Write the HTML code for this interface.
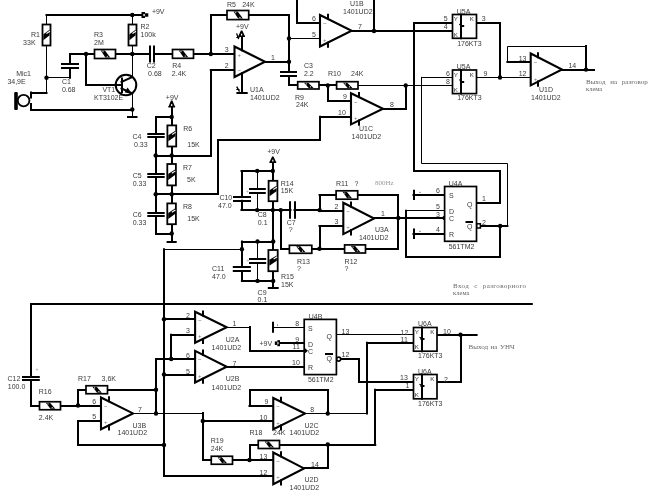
<!DOCTYPE html>
<html><head><meta charset="utf-8"><style>
html,body{margin:0;padding:0;background:#fff;}
svg{display:block;will-change:transform;}
</style></head><body>
<svg width="648" height="502" viewBox="0 0 648 502">
<rect width="648" height="502" fill="#fff"/>
<path d="M46.5 15 L142 15" stroke="#000" stroke-width="2" fill="none" stroke-linecap="square"/>
<path d="M46.5 15 L46.5 93" stroke="#000" stroke-width="1" fill="none" stroke-linecap="square"/>
<path d="M46.5 93 L31 93" stroke="#000" stroke-width="2" fill="none" stroke-linecap="square"/>
<path d="M31 92.5 L31 97.5" stroke="#000" stroke-width="2" fill="none" stroke-linecap="square"/>
<path d="M31 104 L31 110 L132.3 110" stroke="#000" stroke-width="2" fill="none" stroke-linecap="square"/>
<rect x="14.2" y="92" width="3.6" height="18" rx="1.2" fill="#000"/>
<circle cx="23.6" cy="100.6" r="5.8" fill="#fff" stroke="#000" stroke-width="1.8"/>
<path d="M46.5 77.5 L70 77.5" stroke="#000" stroke-width="1" fill="none" stroke-linecap="square"/>
<path d="M70 77.7 L70 68.2" stroke="#000" stroke-width="2" fill="none" stroke-linecap="square"/>
<path d="M62 64 L78 64" stroke="#000" stroke-width="2" fill="none" stroke-linecap="square"/>
<path d="M62 68 L78 68" stroke="#000" stroke-width="2" fill="none" stroke-linecap="square"/>
<path d="M70 63.7 L70 54 L94.5 54" stroke="#000" stroke-width="2" fill="none" stroke-linecap="square"/>
<path d="M86 54 L86 85 L121.5 85" stroke="#000" stroke-width="2" fill="none" stroke-linecap="square"/>
<path d="M115.5 54 L150 54" stroke="#000" stroke-width="2" fill="none" stroke-linecap="square"/>
<path d="M154 54 L172.5 54" stroke="#000" stroke-width="2" fill="none" stroke-linecap="square"/>
<path d="M150 46.5 L150 61.5" stroke="#000" stroke-width="2" fill="none" stroke-linecap="square"/>
<path d="M154 46.5 L154 61.5" stroke="#000" stroke-width="2" fill="none" stroke-linecap="square"/>
<path d="M132.5 15 L132.5 77" stroke="#000" stroke-width="1" fill="none" stroke-linecap="square"/>
<circle cx="126" cy="85" r="10.3" fill="none" stroke="#000" stroke-width="2"/>
<path d="M122 78.5 L122 92" stroke="#000" stroke-width="2" fill="none" stroke-linecap="square"/>
<path d="M121.5 82 L132.3 77" stroke="#000" stroke-width="2" fill="none" stroke-linecap="square"/>
<path d="M121.5 88.5 L132.3 93.5" stroke="#000" stroke-width="2" fill="none" stroke-linecap="square"/>
<path d="M132.3 94.2 L124.6 92.2 L127.6 87.4 Z" fill="#000"/>
<path d="M132.5 93 L132.5 116.7" stroke="#000" stroke-width="1" fill="none" stroke-linecap="square"/>
<path d="M128 117 L136.5 117" stroke="#000" stroke-width="2" fill="none" stroke-linecap="square"/>
<rect x="42.5" y="24.5" width="8" height="21" fill="#fff" stroke="#000" stroke-width="1.8"/>
<path d="M43.4 34.2 L49.6 29.8 L49.6 35.2 L43.4 40.2 Z" fill="#000"/>
<path d="M46.9 33.2 L49.5 31.5" stroke="#fff" stroke-width="1.1" fill="none" stroke-linecap="square"/>
<rect x="128.5" y="24.5" width="8" height="21" fill="#fff" stroke="#000" stroke-width="1.8"/>
<path d="M129.4 34.2 L135.6 29.8 L135.6 35.2 L129.4 40.2 Z" fill="#000"/>
<path d="M132.9 33.2 L135.5 31.5" stroke="#fff" stroke-width="1.1" fill="none" stroke-linecap="square"/>
<rect x="94.5" y="49.5" width="21" height="9" fill="#fff" stroke="#000" stroke-width="1.7"/>
<path d="M100.8 50.5 L105 50.5 L110.2 57.5 L105.4 57.5 Z" fill="#000"/>
<circle cx="103" cy="51.7" r="0.6" fill="#fff"/>
<circle cx="107.2" cy="56.3" r="0.6" fill="#fff"/>
<rect x="141.5" y="12" width="3.54" height="6" fill="#000"/>
<rect x="145.04" y="13.25" width="3.26" height="3.5" fill="#000"/>
<rect x="143.4" y="13.9" width="1.36" height="2.2" fill="#fff"/>
<circle cx="132.3" cy="15" r="2.2"/>
<circle cx="132.3" cy="54" r="2.2"/>
<circle cx="86" cy="54" r="2.2"/>
<circle cx="46.5" cy="77.7" r="2.2"/>
<circle cx="132.3" cy="109.5" r="2.2"/>
<text x="151.9" y="13.9" font-size="7" fill="#3a3a3a" font-family="Liberation Sans">+9V</text>
<text x="31" y="37" font-size="7" fill="#3a3a3a" font-family="Liberation Sans">R1</text>
<text x="23.1" y="45" font-size="7" fill="#3a3a3a" font-family="Liberation Sans">33K</text>
<text x="140.5" y="29" font-size="7" fill="#3a3a3a" font-family="Liberation Sans">R2</text>
<text x="140.5" y="36.6" font-size="7" fill="#3a3a3a" font-family="Liberation Sans">100k</text>
<text x="94" y="37" font-size="7" fill="#3a3a3a" font-family="Liberation Sans">R3</text>
<text x="94" y="45" font-size="7" fill="#3a3a3a" font-family="Liberation Sans">2M</text>
<text x="16.2" y="76" font-size="7" fill="#3a3a3a" font-family="Liberation Sans">Mic1</text>
<text x="7.4" y="84.2" font-size="7" fill="#3a3a3a" font-family="Liberation Sans">34,9E</text>
<text x="61.9" y="84" font-size="7" fill="#3a3a3a" font-family="Liberation Sans">C1</text>
<text x="61.9" y="91.8" font-size="7" fill="#3a3a3a" font-family="Liberation Sans">0.68</text>
<text x="102.4" y="92.2" font-size="7" fill="#3a3a3a" font-family="Liberation Sans">VT1</text>
<text x="94" y="99.8" font-size="7" fill="#3a3a3a" font-family="Liberation Sans">KT3102E</text>
<text x="146.7" y="68" font-size="7" fill="#3a3a3a" font-family="Liberation Sans">C2</text>
<text x="148.1" y="76" font-size="7" fill="#3a3a3a" font-family="Liberation Sans">0.68</text>
<text x="172.2" y="68" font-size="7" fill="#3a3a3a" font-family="Liberation Sans">R4</text>
<text x="171.8" y="76" font-size="7" fill="#3a3a3a" font-family="Liberation Sans">2.4K</text>
<path d="M193.5 54 L234.5 54" stroke="#000" stroke-width="2" fill="none" stroke-linecap="square"/>
<path d="M211 54 L211 15 L227 15" stroke="#000" stroke-width="2" fill="none" stroke-linecap="square"/>
<path d="M248.7 15 L289 15 L289 71.6" stroke="#000" stroke-width="2" fill="none" stroke-linecap="square"/>
<path d="M210.8 70 L234.5 70" stroke="#000" stroke-width="2" fill="none" stroke-linecap="square"/>
<path d="M211 70.4 L211 156 L171.7 156" stroke="#000" stroke-width="2" fill="none" stroke-linecap="square"/>
<path d="M265 62 L289 62" stroke="#000" stroke-width="2" fill="none" stroke-linecap="square"/>
<path d="M289 38.5 L320 38.5" stroke="#000" stroke-width="1" fill="none" stroke-linecap="square"/>
<path d="M281 72 L296 72" stroke="#000" stroke-width="2" fill="none" stroke-linecap="square"/>
<path d="M281 76 L296 76" stroke="#000" stroke-width="2" fill="none" stroke-linecap="square"/>
<path d="M289 76.1 L289 85 L297.7 85" stroke="#000" stroke-width="2" fill="none" stroke-linecap="square"/>
<path d="M319 85 L336.6 85" stroke="#000" stroke-width="2" fill="none" stroke-linecap="square"/>
<path d="M358 85.5 L452.5 85.5" stroke="#000" stroke-width="1" fill="none" stroke-linecap="square"/>
<path d="M328 85.4 L328 101 L351 101" stroke="#000" stroke-width="2" fill="none" stroke-linecap="square"/>
<path d="M242 46.5 L242 37" stroke="#000" stroke-width="2" fill="none" stroke-linecap="square"/>
<path d="M242 77 L242 92.8" stroke="#000" stroke-width="2" fill="none" stroke-linecap="square"/>
<path d="M237.4 93 L246.7 93" stroke="#000" stroke-width="2" fill="none" stroke-linecap="square"/>
<path d="M297 0 L297 23 L320 23" stroke="#000" stroke-width="2" fill="none" stroke-linecap="square"/>
<path d="M351.6 31 L452.5 31" stroke="#000" stroke-width="2" fill="none" stroke-linecap="square"/>
<path d="M374 0 L374 31" stroke="#000" stroke-width="2" fill="none" stroke-linecap="square"/>
<path d="M414 23 L452.5 23" stroke="#000" stroke-width="2" fill="none" stroke-linecap="square"/>
<path d="M414 23 L414 171 L500 171 L500 203 L476.5 203" stroke="#000" stroke-width="2" fill="none" stroke-linecap="square"/>
<path d="M476.5 23 L500 23 L500 77.5" stroke="#000" stroke-width="2" fill="none" stroke-linecap="square"/>
<path d="M421.5 77.5 L452.5 77.5" stroke="#000" stroke-width="1" fill="none" stroke-linecap="square"/>
<path d="M421.5 77.4 L421.5 163.5 L507.5 163.5 L507.5 226" stroke="#000" stroke-width="1" fill="none" stroke-linecap="square"/>
<path d="M507.4 226 L480.6 226" stroke="#000" stroke-width="2" fill="none" stroke-linecap="square"/>
<path d="M406 85.4 L406 109 L383 109" stroke="#000" stroke-width="2" fill="none" stroke-linecap="square"/>
<path d="M476.5 77.5 L530.7 77.5" stroke="#000" stroke-width="1" fill="none" stroke-linecap="square"/>
<path d="M507.4 62 L530.7 62" stroke="#000" stroke-width="2" fill="none" stroke-linecap="square"/>
<path d="M507.5 61.5 L507.5 46.5 L586 46.5" stroke="#000" stroke-width="1" fill="none" stroke-linecap="square"/>
<path d="M586 46 L586 69.6" stroke="#000" stroke-width="2" fill="none" stroke-linecap="square"/>
<path d="M562 70 L594 70" stroke="#000" stroke-width="2" fill="none" stroke-linecap="square"/>
<path d="M320 117 L351 117" stroke="#000" stroke-width="2" fill="none" stroke-linecap="square"/>
<path d="M320 116.7 L320 140 L218 140 L218 194 L171.7 194" stroke="#000" stroke-width="2" fill="none" stroke-linecap="square"/>
<path d="M234.5 46.5 L265 61.75 L234.5 77 Z" fill="#fff" stroke="#000" stroke-width="2.1" stroke-linejoin="miter"/>
<text x="237.5" y="56.56" font-size="6" fill="#777" font-family="Liberation Sans">+</text>
<text x="237.5" y="72.42" font-size="6" fill="#777" font-family="Liberation Sans">~</text>
<path d="M242 50.3 L242 46.2" stroke="#000" stroke-width="2" fill="none" stroke-linecap="square"/>
<path d="M242 73.2 L242 77.3" stroke="#000" stroke-width="2" fill="none" stroke-linecap="square"/>
<path d="M320 15 L351.6 30.75 L320 46.5 Z" fill="#fff" stroke="#000" stroke-width="2.1" stroke-linejoin="miter"/>
<text x="323" y="25.4" font-size="6" fill="#777" font-family="Liberation Sans">~</text>
<text x="323" y="41.77" font-size="6" fill="#777" font-family="Liberation Sans">+</text>
<path d="M328 18.8 L328 14.7" stroke="#000" stroke-width="2" fill="none" stroke-linecap="square"/>
<path d="M328 42.7 L328 46.8" stroke="#000" stroke-width="2" fill="none" stroke-linecap="square"/>
<path d="M351 93.2 L383 108.8 L351 124.4 Z" fill="#fff" stroke="#000" stroke-width="2.1" stroke-linejoin="miter"/>
<text x="354" y="103.5" font-size="6" fill="#777" font-family="Liberation Sans">~</text>
<text x="354" y="119.72" font-size="6" fill="#777" font-family="Liberation Sans">+</text>
<path d="M359 97 L359 92.9" stroke="#000" stroke-width="2" fill="none" stroke-linecap="square"/>
<path d="M359 120.6 L359 124.7" stroke="#000" stroke-width="2" fill="none" stroke-linecap="square"/>
<path d="M530.7 53.5 L562 69.45 L530.7 85.4 Z" fill="#fff" stroke="#000" stroke-width="2.1" stroke-linejoin="miter"/>
<text x="533.7" y="64.03" font-size="6" fill="#777" font-family="Liberation Sans">~</text>
<text x="533.7" y="80.62" font-size="6" fill="#777" font-family="Liberation Sans">+</text>
<path d="M538 57.3 L538 53.2" stroke="#000" stroke-width="2" fill="none" stroke-linecap="square"/>
<path d="M538 81.6 L538 85.7" stroke="#000" stroke-width="2" fill="none" stroke-linecap="square"/>
<rect x="172.5" y="49.5" width="21" height="8.8" fill="#fff" stroke="#000" stroke-width="1.7"/>
<path d="M178.8 50.5 L183 50.5 L188.2 57.3 L183.4 57.3 Z" fill="#000"/>
<circle cx="181" cy="51.7" r="0.6" fill="#fff"/>
<circle cx="185.2" cy="56.1" r="0.6" fill="#fff"/>
<rect x="227" y="10.5" width="21.7" height="9.1" fill="#fff" stroke="#000" stroke-width="1.7"/>
<path d="M233.51 11.5 L237.71 11.5 L242.91 18.6 L238.11 18.6 Z" fill="#000"/>
<circle cx="235.71" cy="12.7" r="0.6" fill="#fff"/>
<circle cx="239.91" cy="17.4" r="0.6" fill="#fff"/>
<rect x="297.7" y="81.7" width="21.3" height="7.3" fill="#fff" stroke="#000" stroke-width="1.7"/>
<path d="M304.09 82.7 L308.29 82.7 L313.49 88 L308.69 88 Z" fill="#000"/>
<circle cx="306.29" cy="83.9" r="0.6" fill="#fff"/>
<circle cx="310.49" cy="86.8" r="0.6" fill="#fff"/>
<rect x="336.6" y="81.7" width="21.4" height="7.3" fill="#fff" stroke="#000" stroke-width="1.7"/>
<path d="M343.02 82.7 L347.22 82.7 L352.42 88 L347.62 88 Z" fill="#000"/>
<circle cx="345.22" cy="83.9" r="0.6" fill="#fff"/>
<circle cx="349.42" cy="86.8" r="0.6" fill="#fff"/>
<path d="M240.9 30.5 L242.3 30.5 L244.6 35.4 L245 35.4 L245 37 L238.2 37 L238.2 35.4 L238.6 35.4 Z" fill="#000"/>
<rect x="241" y="33.75" width="1.2" height="1.76" fill="#fff"/>
<rect x="452.5" y="14.5" width="24" height="23.8" fill="#fff" stroke="#000" stroke-width="1.7"/>
<path d="M461 14.5 L461 38.3" stroke="#000" stroke-width="2" fill="none" stroke-linecap="square"/>
<text x="453.8" y="21.1" font-size="6.2" fill="#333" font-family="Liberation Sans">Y</text>
<text x="453.8" y="36.5" font-size="6.2" fill="#333" font-family="Liberation Sans">K</text>
<text x="469.7" y="21.1" font-size="6.2" fill="#333" font-family="Liberation Sans">K</text>
<path d="M459.7 24.5 L461.7 26" stroke="#000" stroke-width="1.2" fill="none" stroke-linecap="square"/>
<path d="M461.2 26 L463.2 26" stroke="#000" stroke-width="2" fill="none" stroke-linecap="square"/>
<rect x="452.5" y="70" width="24" height="23.6" fill="#fff" stroke="#000" stroke-width="1.7"/>
<path d="M461 70 L461 93.6" stroke="#000" stroke-width="2" fill="none" stroke-linecap="square"/>
<text x="453.8" y="76.6" font-size="6.2" fill="#333" font-family="Liberation Sans">Y</text>
<text x="453.8" y="91.8" font-size="6.2" fill="#333" font-family="Liberation Sans">K</text>
<text x="469.7" y="76.6" font-size="6.2" fill="#333" font-family="Liberation Sans">K</text>
<path d="M459.7 80 L461.7 81.5" stroke="#000" stroke-width="1.2" fill="none" stroke-linecap="square"/>
<path d="M461.2 82 L463.2 82" stroke="#000" stroke-width="2" fill="none" stroke-linecap="square"/>
<circle cx="210.8" cy="54" r="2.2"/>
<circle cx="289" cy="61.8" r="2.2"/>
<circle cx="289" cy="38.4" r="2.2"/>
<circle cx="327.8" cy="85.4" r="2.2"/>
<circle cx="405.7" cy="85.4" r="2.2"/>
<circle cx="374" cy="31" r="2.2"/>
<circle cx="500" cy="77.5" r="2.2"/>
<circle cx="586" cy="69.6" r="2.2"/>
<text x="227" y="6.5" font-size="7" fill="#3a3a3a" font-family="Liberation Sans">R5</text>
<text x="242.2" y="6.5" font-size="7" fill="#3a3a3a" font-family="Liberation Sans">24K</text>
<text x="236" y="29" font-size="7" fill="#3a3a3a" font-family="Liberation Sans">+9V</text>
<text x="224.8" y="52.3" font-size="7" fill="#3a3a3a" font-family="Liberation Sans">3</text>
<text x="224.8" y="67.7" font-size="7" fill="#3a3a3a" font-family="Liberation Sans">2</text>
<text x="271" y="60" font-size="7" fill="#3a3a3a" font-family="Liberation Sans">1</text>
<text x="250" y="92" font-size="7" fill="#3a3a3a" font-family="Liberation Sans">U1A</text>
<text x="250" y="99.8" font-size="7" fill="#3a3a3a" font-family="Liberation Sans">1401UD2</text>
<text x="304" y="68.3" font-size="7" fill="#3a3a3a" font-family="Liberation Sans">C3</text>
<text x="304" y="76" font-size="7" fill="#3a3a3a" font-family="Liberation Sans">2.2</text>
<text x="295" y="100" font-size="7" fill="#3a3a3a" font-family="Liberation Sans">R9</text>
<text x="296" y="106.5" font-size="7" fill="#3a3a3a" font-family="Liberation Sans">24K</text>
<text x="350" y="6.3" font-size="7" fill="#3a3a3a" font-family="Liberation Sans">U1B</text>
<text x="343" y="13.8" font-size="7" fill="#3a3a3a" font-family="Liberation Sans">1401UD2</text>
<text x="312" y="21.3" font-size="7" fill="#3a3a3a" font-family="Liberation Sans">6</text>
<text x="312" y="36.5" font-size="7" fill="#3a3a3a" font-family="Liberation Sans">5</text>
<text x="358" y="28.5" font-size="7" fill="#3a3a3a" font-family="Liberation Sans">7</text>
<text x="456.8" y="13.8" font-size="7" fill="#3a3a3a" font-family="Liberation Sans">U5A</text>
<text x="443.8" y="20.5" font-size="7" fill="#3a3a3a" font-family="Liberation Sans">5</text>
<text x="443.8" y="29" font-size="7" fill="#3a3a3a" font-family="Liberation Sans">4</text>
<text x="481.8" y="20.5" font-size="7" fill="#3a3a3a" font-family="Liberation Sans">3</text>
<text x="457.2" y="45.8" font-size="7" fill="#3a3a3a" font-family="Liberation Sans">176KT3</text>
<text x="456.8" y="69.2" font-size="7" fill="#3a3a3a" font-family="Liberation Sans">U5A</text>
<text x="446" y="76" font-size="7" fill="#3a3a3a" font-family="Liberation Sans">6</text>
<text x="446" y="84" font-size="7" fill="#3a3a3a" font-family="Liberation Sans">8</text>
<text x="483.5" y="76" font-size="7" fill="#3a3a3a" font-family="Liberation Sans">9</text>
<text x="457.2" y="100" font-size="7" fill="#3a3a3a" font-family="Liberation Sans">176KT3</text>
<text x="328" y="76" font-size="7" fill="#3a3a3a" font-family="Liberation Sans">R10</text>
<text x="351" y="76" font-size="7" fill="#3a3a3a" font-family="Liberation Sans">24K</text>
<text x="343" y="99" font-size="7" fill="#3a3a3a" font-family="Liberation Sans">9</text>
<text x="338" y="114.7" font-size="7" fill="#3a3a3a" font-family="Liberation Sans">10</text>
<text x="390" y="106.5" font-size="7" fill="#3a3a3a" font-family="Liberation Sans">8</text>
<text x="359" y="131" font-size="7" fill="#3a3a3a" font-family="Liberation Sans">U1C</text>
<text x="351.6" y="139" font-size="7" fill="#3a3a3a" font-family="Liberation Sans">1401UD2</text>
<text x="518.7" y="60.5" font-size="7" fill="#3a3a3a" font-family="Liberation Sans">13</text>
<text x="518.7" y="76" font-size="7" fill="#3a3a3a" font-family="Liberation Sans">12</text>
<text x="568.4" y="68" font-size="7" fill="#3a3a3a" font-family="Liberation Sans">14</text>
<text x="539" y="91.5" font-size="7" fill="#3a3a3a" font-family="Liberation Sans">U1D</text>
<text x="531" y="100" font-size="7" fill="#3a3a3a" font-family="Liberation Sans">1401UD2</text>
<text x="586" y="84.3" font-size="7" fill="#666" font-family="Liberation Serif" word-spacing="3">Выход на разговорного</text>
<text x="586" y="91.3" font-size="6.5" fill="#666" font-family="Liberation Serif">клема</text>
<path d="M172 107.5 L172 241.5" stroke="#000" stroke-width="2" fill="none" stroke-linecap="square"/>
<path d="M167.6 242 L175.7 242" stroke="#000" stroke-width="2" fill="none" stroke-linecap="square"/>
<path d="M171.7 117 L156 117 L156 134" stroke="#000" stroke-width="2" fill="none" stroke-linecap="square"/>
<path d="M171.7 234 L156 234 L156 216.4" stroke="#000" stroke-width="2" fill="none" stroke-linecap="square"/>
<path d="M155.7 156 L171.7 156" stroke="#000" stroke-width="2" fill="none" stroke-linecap="square"/>
<path d="M155.7 194 L171.7 194" stroke="#000" stroke-width="2" fill="none" stroke-linecap="square"/>
<path d="M156 137.1 L156 173.6" stroke="#000" stroke-width="2" fill="none" stroke-linecap="square"/>
<path d="M156 177.4 L156 212.6" stroke="#000" stroke-width="2" fill="none" stroke-linecap="square"/>
<path d="M148.3 134 L163.7 134" stroke="#000" stroke-width="2" fill="none" stroke-linecap="square"/>
<path d="M148.3 137 L163.7 137" stroke="#000" stroke-width="2" fill="none" stroke-linecap="square"/>
<path d="M148.3 177 L163.7 177" stroke="#000" stroke-width="2" fill="none" stroke-linecap="square"/>
<path d="M148.3 213 L163.7 213" stroke="#000" stroke-width="2" fill="none" stroke-linecap="square"/>
<path d="M148.3 216 L163.7 216" stroke="#000" stroke-width="2" fill="none" stroke-linecap="square"/>
<path d="M148.3 174 L163.7 174" stroke="#000" stroke-width="2" fill="none" stroke-linecap="square"/>
<rect x="167.4" y="125.4" width="8.8" height="21.1" fill="#fff" stroke="#000" stroke-width="1.8"/>
<path d="M168.3 135.15 L175.3 130.75 L175.3 136.15 L168.3 141.15 Z" fill="#000"/>
<path d="M172.6 134.15 L175.2 132.45" stroke="#fff" stroke-width="1.1" fill="none" stroke-linecap="square"/>
<rect x="167.3" y="164" width="8.6" height="21.4" fill="#fff" stroke="#000" stroke-width="1.8"/>
<path d="M168.2 173.9 L175 169.5 L175 174.9 L168.2 179.9 Z" fill="#000"/>
<path d="M172.3 172.9 L174.9 171.2" stroke="#fff" stroke-width="1.1" fill="none" stroke-linecap="square"/>
<rect x="167.3" y="203.4" width="8.6" height="20.8" fill="#fff" stroke="#000" stroke-width="1.8"/>
<path d="M168.2 213 L175 208.6 L175 214 L168.2 219 Z" fill="#000"/>
<path d="M172.3 212 L174.9 210.3" stroke="#fff" stroke-width="1.1" fill="none" stroke-linecap="square"/>
<path d="M171 100.6 L172.4 100.6 L174.7 106 L175.1 106 L175.1 107.6 L168.3 107.6 L168.3 106 L168.7 106 Z" fill="#000"/>
<rect x="171.1" y="104.1" width="1.2" height="1.89" fill="#fff"/>
<circle cx="171.7" cy="117" r="2.2"/>
<circle cx="155.7" cy="155.5" r="2.2"/>
<circle cx="171.7" cy="155.5" r="2.2"/>
<circle cx="155.7" cy="194.2" r="2.2"/>
<circle cx="171.7" cy="194.2" r="2.2"/>
<circle cx="171.7" cy="233.5" r="2.2"/>
<text x="165.8" y="100.3" font-size="7" fill="#3a3a3a" font-family="Liberation Sans">+9V</text>
<text x="183.3" y="131.4" font-size="7" fill="#3a3a3a" font-family="Liberation Sans">R6</text>
<text x="187.3" y="147.3" font-size="7" fill="#3a3a3a" font-family="Liberation Sans">15K</text>
<text x="132.4" y="139" font-size="7" fill="#3a3a3a" font-family="Liberation Sans">C4</text>
<text x="134" y="147" font-size="7" fill="#3a3a3a" font-family="Liberation Sans">0.33</text>
<text x="182.9" y="169.9" font-size="7" fill="#3a3a3a" font-family="Liberation Sans">R7</text>
<text x="187" y="181.9" font-size="7" fill="#3a3a3a" font-family="Liberation Sans">5K</text>
<text x="132.7" y="178" font-size="7" fill="#3a3a3a" font-family="Liberation Sans">C5</text>
<text x="132.7" y="186" font-size="7" fill="#3a3a3a" font-family="Liberation Sans">0.33</text>
<text x="182.9" y="208.7" font-size="7" fill="#3a3a3a" font-family="Liberation Sans">R8</text>
<text x="187.3" y="221" font-size="7" fill="#3a3a3a" font-family="Liberation Sans">15K</text>
<text x="132.7" y="217" font-size="7" fill="#3a3a3a" font-family="Liberation Sans">C6</text>
<text x="132.7" y="225" font-size="7" fill="#3a3a3a" font-family="Liberation Sans">0.33</text>
<path d="M273 163 L273 250" stroke="#000" stroke-width="2" fill="none" stroke-linecap="square"/>
<path d="M241.5 171 L272.8 171" stroke="#000" stroke-width="2" fill="none" stroke-linecap="square"/>
<path d="M242 170.9 L242 196.8" stroke="#000" stroke-width="2" fill="none" stroke-linecap="square"/>
<path d="M242 200.8 L242 210.1" stroke="#000" stroke-width="2" fill="none" stroke-linecap="square"/>
<path d="M234 197 L250 197" stroke="#000" stroke-width="2" fill="none" stroke-linecap="square"/>
<path d="M234 201 L250 201" stroke="#000" stroke-width="2" fill="none" stroke-linecap="square"/>
<path d="M257.5 170.9 L257.5 188.8" stroke="#000" stroke-width="1" fill="none" stroke-linecap="square"/>
<path d="M257.5 192.8 L257.5 210.1" stroke="#000" stroke-width="1" fill="none" stroke-linecap="square"/>
<path d="M250 189 L264.8 189" stroke="#000" stroke-width="2" fill="none" stroke-linecap="square"/>
<path d="M250 193 L264.8 193" stroke="#000" stroke-width="2" fill="none" stroke-linecap="square"/>
<path d="M241.5 210 L290.5 210" stroke="#000" stroke-width="2" fill="none" stroke-linecap="square"/>
<path d="M294.5 210 L319.6 210" stroke="#000" stroke-width="2" fill="none" stroke-linecap="square"/>
<path d="M290 202.3 L290 217.7" stroke="#000" stroke-width="2" fill="none" stroke-linecap="square"/>
<path d="M295 202.3 L295 217.7" stroke="#000" stroke-width="2" fill="none" stroke-linecap="square"/>
<path d="M281 210.1 L281 249 L289.4 249" stroke="#000" stroke-width="2" fill="none" stroke-linecap="square"/>
<path d="M311.8 249 L319.8 249" stroke="#000" stroke-width="2" fill="none" stroke-linecap="square"/>
<path d="M319.6 195 L336.1 195" stroke="#000" stroke-width="2" fill="none" stroke-linecap="square"/>
<path d="M357.7 195 L398 195 L398 249 L365.5 249" stroke="#000" stroke-width="2" fill="none" stroke-linecap="square"/>
<path d="M344.6 249 L319.5 249" stroke="#000" stroke-width="2" fill="none" stroke-linecap="square"/>
<path d="M320 195 L320 211 L343.3 211" stroke="#000" stroke-width="2" fill="none" stroke-linecap="square"/>
<path d="M319.5 226 L343.3 226" stroke="#000" stroke-width="2" fill="none" stroke-linecap="square"/>
<path d="M320 226 L320 248.8" stroke="#000" stroke-width="2" fill="none" stroke-linecap="square"/>
<path d="M374.1 218 L444.6 218" stroke="#000" stroke-width="2" fill="none" stroke-linecap="square"/>
<rect x="268.6" y="180.8" width="8.8" height="20.4" fill="#fff" stroke="#000" stroke-width="1.8"/>
<path d="M269.5 190.2 L276.5 185.8 L276.5 191.2 L269.5 196.2 Z" fill="#000"/>
<path d="M273.8 189.2 L276.4 187.5" stroke="#fff" stroke-width="1.1" fill="none" stroke-linecap="square"/>
<rect x="289.4" y="245.3" width="22.4" height="8" fill="#fff" stroke="#000" stroke-width="1.7"/>
<path d="M296.12 246.3 L300.32 246.3 L305.52 252.3 L300.72 252.3 Z" fill="#000"/>
<circle cx="298.32" cy="247.5" r="0.6" fill="#fff"/>
<circle cx="302.52" cy="251.1" r="0.6" fill="#fff"/>
<rect x="336.1" y="190.8" width="21.6" height="8.4" fill="#fff" stroke="#000" stroke-width="1.7"/>
<path d="M342.58 191.8 L346.78 191.8 L351.98 198.2 L347.18 198.2 Z" fill="#000"/>
<circle cx="344.78" cy="193" r="0.6" fill="#fff"/>
<circle cx="348.98" cy="197" r="0.6" fill="#fff"/>
<rect x="344.6" y="244.9" width="20.9" height="8.1" fill="#fff" stroke="#000" stroke-width="1.7"/>
<path d="M350.87 245.9 L355.07 245.9 L360.27 252 L355.47 252 Z" fill="#000"/>
<circle cx="353.07" cy="247.1" r="0.6" fill="#fff"/>
<circle cx="357.27" cy="250.8" r="0.6" fill="#fff"/>
<path d="M343.3 202.8 L374.1 218.45 L343.3 234.1 Z" fill="#fff" stroke="#000" stroke-width="2.1" stroke-linejoin="miter"/>
<text x="346.3" y="213.13" font-size="6" fill="#777" font-family="Liberation Sans">~</text>
<text x="346.3" y="229.41" font-size="6" fill="#777" font-family="Liberation Sans">+</text>
<path d="M351 206.6 L351 202.5" stroke="#000" stroke-width="2" fill="none" stroke-linecap="square"/>
<path d="M351 230.3 L351 234.4" stroke="#000" stroke-width="2" fill="none" stroke-linecap="square"/>
<path d="M272.1 156.5 L273.5 156.5 L275.8 161.4 L276.2 161.4 L276.2 163 L269.4 163 L269.4 161.4 L269.8 161.4 Z" fill="#000"/>
<rect x="272.2" y="159.75" width="1.2" height="1.76" fill="#fff"/>
<circle cx="257.2" cy="170.9" r="2.2"/>
<circle cx="272.8" cy="170.9" r="2.2"/>
<circle cx="257.2" cy="210.1" r="2.2"/>
<circle cx="272.8" cy="210.1" r="2.2"/>
<circle cx="280.7" cy="210.1" r="2.2"/>
<circle cx="319.6" cy="210.1" r="2.2"/>
<circle cx="319.5" cy="248.8" r="2.2"/>
<circle cx="398.3" cy="218" r="2.2"/>
<circle cx="444.6" cy="218" r="2.2"/>
<text x="267.2" y="154.3" font-size="7" fill="#3a3a3a" font-family="Liberation Sans">+9V</text>
<text x="280.7" y="185.8" font-size="7" fill="#3a3a3a" font-family="Liberation Sans">R14</text>
<text x="280.7" y="193.4" font-size="7" fill="#3a3a3a" font-family="Liberation Sans">15K</text>
<text x="219.4" y="200.3" font-size="7" fill="#3a3a3a" font-family="Liberation Sans">C10</text>
<text x="218" y="207.8" font-size="7" fill="#3a3a3a" font-family="Liberation Sans">47.0</text>
<text x="245.9" y="192.5" font-size="5" fill="#999" font-family="Liberation Sans">+</text>
<text x="257.8" y="217.3" font-size="7" fill="#3a3a3a" font-family="Liberation Sans">C8</text>
<text x="257.8" y="225.3" font-size="7" fill="#3a3a3a" font-family="Liberation Sans">0.1</text>
<text x="286.7" y="224.7" font-size="7" fill="#3a3a3a" font-family="Liberation Sans">C7</text>
<text x="288.7" y="231.8" font-size="7" fill="#3a3a3a" font-family="Liberation Sans">?</text>
<text x="336" y="185.8" font-size="7" fill="#3a3a3a" font-family="Liberation Sans">R11</text>
<text x="354.4" y="185.8" font-size="7" fill="#3a3a3a" font-family="Liberation Sans">?</text>
<text x="374.9" y="184.9" font-size="7" fill="#999" font-family="Liberation Serif">800Hz</text>
<text x="334.4" y="209" font-size="7" fill="#3a3a3a" font-family="Liberation Sans">2</text>
<text x="334.4" y="224.3" font-size="7" fill="#3a3a3a" font-family="Liberation Sans">3</text>
<text x="381" y="216.2" font-size="7" fill="#3a3a3a" font-family="Liberation Sans">1</text>
<text x="375" y="231.5" font-size="7" fill="#3a3a3a" font-family="Liberation Sans">U3A</text>
<text x="358.9" y="239.5" font-size="7" fill="#3a3a3a" font-family="Liberation Sans">1401UD2</text>
<text x="344.6" y="263.7" font-size="7" fill="#3a3a3a" font-family="Liberation Sans">R12</text>
<text x="344.6" y="270.5" font-size="7" fill="#3a3a3a" font-family="Liberation Sans">?</text>
<text x="297" y="263.5" font-size="7" fill="#3a3a3a" font-family="Liberation Sans">R13</text>
<text x="297" y="270.5" font-size="7" fill="#3a3a3a" font-family="Liberation Sans">?</text>
<path d="M413.5 195 L444.6 195" stroke="#000" stroke-width="2" fill="none" stroke-linecap="square"/>
<path d="M414 190.7 L414 199" stroke="#000" stroke-width="2" fill="none" stroke-linecap="square"/>
<path d="M413.5 234 L444.6 234" stroke="#000" stroke-width="2" fill="none" stroke-linecap="square"/>
<path d="M414 229.6 L414 238" stroke="#000" stroke-width="2" fill="none" stroke-linecap="square"/>
<path d="M444.6 210.5 L406.1 210.5" stroke="#000" stroke-width="1" fill="none" stroke-linecap="square"/>
<path d="M406 210.8 L406 257 L500 257 L500 226" stroke="#000" stroke-width="2" fill="none" stroke-linecap="square"/>
<rect x="444.6" y="186.5" width="31.9" height="54.8" fill="#fff" stroke="#000" stroke-width="1.7"/>
<rect x="476.8" y="223.8" width="3.6" height="4.2" fill="#fff" stroke="#000" stroke-width="1.5"/>
<circle cx="500.2" cy="226" r="2.2"/>
<text x="448.7" y="186.1" font-size="7" fill="#3a3a3a" font-family="Liberation Sans">U4A</text>
<text x="448.7" y="249" font-size="7" fill="#3a3a3a" font-family="Liberation Sans">561TM2</text>
<text x="436" y="193.1" font-size="7" fill="#3a3a3a" font-family="Liberation Sans">6</text>
<text x="436" y="209.3" font-size="7" fill="#3a3a3a" font-family="Liberation Sans">5</text>
<text x="436" y="217.2" font-size="7" fill="#3a3a3a" font-family="Liberation Sans">3</text>
<text x="436" y="232.4" font-size="7" fill="#3a3a3a" font-family="Liberation Sans">4</text>
<text x="449" y="198.1" font-size="7" fill="#3a3a3a" font-family="Liberation Sans">S</text>
<text x="449" y="214" font-size="7" fill="#3a3a3a" font-family="Liberation Sans">D</text>
<text x="449" y="221.3" font-size="7" fill="#3a3a3a" font-family="Liberation Sans">C</text>
<text x="449" y="237" font-size="7" fill="#3a3a3a" font-family="Liberation Sans">R</text>
<text x="466.9" y="206.5" font-size="7" fill="#3a3a3a" font-family="Liberation Sans">Q</text>
<text x="466.9" y="228.5" font-size="7" fill="#3a3a3a" font-family="Liberation Sans">Q</text>
<path d="M466.5 222 L472 222" stroke="#000" stroke-width="2" fill="none" stroke-linecap="square"/>
<text x="482" y="201" font-size="7" fill="#3a3a3a" font-family="Liberation Sans">1</text>
<text x="482" y="225" font-size="7" fill="#3a3a3a" font-family="Liberation Sans">2</text>
<path d="M164 249.5 L241.9 249.5" stroke="#000" stroke-width="1" fill="none" stroke-linecap="square"/>
<path d="M241.9 242 L273.2 242" stroke="#000" stroke-width="2" fill="none" stroke-linecap="square"/>
<path d="M242 241.5 L242 267.1" stroke="#000" stroke-width="2" fill="none" stroke-linecap="square"/>
<path d="M242 271 L242 280.9" stroke="#000" stroke-width="2" fill="none" stroke-linecap="square"/>
<path d="M233.8 267 L249.9 267" stroke="#000" stroke-width="2" fill="none" stroke-linecap="square"/>
<path d="M233.8 271 L249.9 271" stroke="#000" stroke-width="2" fill="none" stroke-linecap="square"/>
<path d="M257.5 241.5 L257.5 258.6" stroke="#000" stroke-width="1" fill="none" stroke-linecap="square"/>
<path d="M257.5 262.5 L257.5 280.9" stroke="#000" stroke-width="1" fill="none" stroke-linecap="square"/>
<path d="M250 259 L265.2 259" stroke="#000" stroke-width="2" fill="none" stroke-linecap="square"/>
<path d="M250 263 L265.2 263" stroke="#000" stroke-width="2" fill="none" stroke-linecap="square"/>
<path d="M273 271.2 L273 287.7" stroke="#000" stroke-width="2" fill="none" stroke-linecap="square"/>
<path d="M268.8 288 L277.7 288" stroke="#000" stroke-width="2" fill="none" stroke-linecap="square"/>
<path d="M241.9 281 L273.2 281" stroke="#000" stroke-width="2" fill="none" stroke-linecap="square"/>
<rect x="268.4" y="250" width="9.3" height="21.2" fill="#fff" stroke="#000" stroke-width="1.8"/>
<path d="M269.3 259.8 L276.8 255.4 L276.8 260.8 L269.3 265.8 Z" fill="#000"/>
<path d="M274.1 258.8 L276.7 257.1" stroke="#fff" stroke-width="1.1" fill="none" stroke-linecap="square"/>
<circle cx="241.9" cy="249.2" r="2.2"/>
<circle cx="257.5" cy="241.5" r="2.2"/>
<circle cx="273.2" cy="241.5" r="2.2"/>
<circle cx="257.5" cy="280.9" r="2.2"/>
<circle cx="273.2" cy="280.9" r="2.2"/>
<text x="212" y="271.2" font-size="7" fill="#3a3a3a" font-family="Liberation Sans">C11</text>
<text x="212" y="279" font-size="7" fill="#3a3a3a" font-family="Liberation Sans">47.0</text>
<text x="246.4" y="262" font-size="5" fill="#999" font-family="Liberation Sans">+</text>
<text x="257.6" y="294.9" font-size="7" fill="#3a3a3a" font-family="Liberation Sans">C9</text>
<text x="257.6" y="302.2" font-size="7" fill="#3a3a3a" font-family="Liberation Sans">0.1</text>
<text x="281" y="278.8" font-size="7" fill="#3a3a3a" font-family="Liberation Sans">R15</text>
<text x="281" y="286.8" font-size="7" fill="#3a3a3a" font-family="Liberation Sans">15K</text>
<text x="453.1" y="287.7" font-size="7" fill="#666" font-family="Liberation Serif" word-spacing="3" letter-spacing="0.35">Вход с разговорного</text>
<text x="453.1" y="294.7" font-size="6.5" fill="#666" font-family="Liberation Serif">клема</text>
<path d="M31 375 L31 304 L531.8 304" stroke="#000" stroke-width="2" fill="none" stroke-linecap="square"/>
<path d="M164 249.2 L164 476 L273.25 476" stroke="#000" stroke-width="2" fill="none" stroke-linecap="square"/>
<path d="M164 319 L195.1 319" stroke="#000" stroke-width="2" fill="none" stroke-linecap="square"/>
<path d="M171.2 335 L195.1 335" stroke="#000" stroke-width="2" fill="none" stroke-linecap="square"/>
<path d="M171 334.8 L171 359" stroke="#000" stroke-width="2" fill="none" stroke-linecap="square"/>
<path d="M156 359 L195.1 359" stroke="#000" stroke-width="2" fill="none" stroke-linecap="square"/>
<path d="M156 359 L156 413.5" stroke="#000" stroke-width="2" fill="none" stroke-linecap="square"/>
<path d="M164 375 L195.1 375" stroke="#000" stroke-width="2" fill="none" stroke-linecap="square"/>
<path d="M226.7 327.5 L249.8 327.5" stroke="#000" stroke-width="1" fill="none" stroke-linecap="square"/>
<path d="M250 327 L250 351 L304.2 351" stroke="#000" stroke-width="2" fill="none" stroke-linecap="square"/>
<path d="M226.7 367 L304.2 367" stroke="#000" stroke-width="2" fill="none" stroke-linecap="square"/>
<path d="M272.8 327.5 L304.2 327.5" stroke="#000" stroke-width="1" fill="none" stroke-linecap="square"/>
<path d="M273 322.8 L273 331.8" stroke="#000" stroke-width="2" fill="none" stroke-linecap="square"/>
<path d="M280 343 L304.2 343" stroke="#000" stroke-width="2" fill="none" stroke-linecap="square"/>
<path d="M336.4 334.5 L413.5 334.5" stroke="#000" stroke-width="1" fill="none" stroke-linecap="square"/>
<path d="M340.2 359 L359 359 L359 382 L413.5 382" stroke="#000" stroke-width="2" fill="none" stroke-linecap="square"/>
<path d="M367 343 L413.5 343" stroke="#000" stroke-width="2" fill="none" stroke-linecap="square"/>
<path d="M367 342.7 L367 413.5" stroke="#000" stroke-width="2" fill="none" stroke-linecap="square"/>
<path d="M437 335 L476.6 335" stroke="#000" stroke-width="2" fill="none" stroke-linecap="square"/>
<path d="M461 334.8 L461 382 L437 382" stroke="#000" stroke-width="2" fill="none" stroke-linecap="square"/>
<path d="M375.25 390 L413.5 390" stroke="#000" stroke-width="2" fill="none" stroke-linecap="square"/>
<path d="M375 389.7 L375 445" stroke="#000" stroke-width="2" fill="none" stroke-linecap="square"/>
<path d="M195.1 311.7 L226.7 327.2 L195.1 342.7 Z" fill="#fff" stroke="#000" stroke-width="2.1" stroke-linejoin="miter"/>
<text x="198.1" y="321.93" font-size="6" fill="#777" font-family="Liberation Sans">~</text>
<text x="198.1" y="338.05" font-size="6" fill="#777" font-family="Liberation Sans">+</text>
<path d="M203 315.5 L203 311.4" stroke="#000" stroke-width="2" fill="none" stroke-linecap="square"/>
<path d="M203 338.9 L203 343" stroke="#000" stroke-width="2" fill="none" stroke-linecap="square"/>
<path d="M195.1 350.9 L226.7 366.7 L195.1 382.5 Z" fill="#fff" stroke="#000" stroke-width="2.1" stroke-linejoin="miter"/>
<text x="198.1" y="361.33" font-size="6" fill="#777" font-family="Liberation Sans">~</text>
<text x="198.1" y="377.76" font-size="6" fill="#777" font-family="Liberation Sans">+</text>
<path d="M203 354.7 L203 350.6" stroke="#000" stroke-width="2" fill="none" stroke-linecap="square"/>
<path d="M203 378.7 L203 382.8" stroke="#000" stroke-width="2" fill="none" stroke-linecap="square"/>
<rect x="304.2" y="319.4" width="32.2" height="55.2" fill="#fff" stroke="#000" stroke-width="1.7"/>
<path d="M304.5 347.8 L308 350.8 L304.5 353.8 Z" fill="#000"/>
<circle cx="338.7" cy="359.1" r="2" fill="#fff" stroke="#000" stroke-width="1.6"/>
<rect x="274.8" y="341.45" width="2.5" height="3.5" fill="#000"/>
<rect x="277.3" y="340.2" width="2.7" height="6" fill="#000"/>
<rect x="277.5" y="342.1" width="1.04" height="2.2" fill="#fff"/>
<rect x="413.5" y="327.5" width="23.5" height="23.7" fill="#fff" stroke="#000" stroke-width="1.7"/>
<path d="M422 327.5 L422 351.2" stroke="#000" stroke-width="2" fill="none" stroke-linecap="square"/>
<text x="414.8" y="334.1" font-size="6.2" fill="#333" font-family="Liberation Sans">Y</text>
<text x="414.8" y="349.4" font-size="6.2" fill="#333" font-family="Liberation Sans">K</text>
<text x="430.2" y="334.1" font-size="6.2" fill="#333" font-family="Liberation Sans">K</text>
<path d="M420 337.5 L422 339" stroke="#000" stroke-width="1.2" fill="none" stroke-linecap="square"/>
<path d="M421.5 339 L423.5 339" stroke="#000" stroke-width="2" fill="none" stroke-linecap="square"/>
<rect x="413.5" y="374.5" width="23.5" height="24.3" fill="#fff" stroke="#000" stroke-width="1.7"/>
<path d="M422 374.5 L422 398.8" stroke="#000" stroke-width="2" fill="none" stroke-linecap="square"/>
<text x="414.8" y="381.1" font-size="6.2" fill="#333" font-family="Liberation Sans">Y</text>
<text x="414.8" y="397" font-size="6.2" fill="#333" font-family="Liberation Sans">K</text>
<text x="430.2" y="381.1" font-size="6.2" fill="#333" font-family="Liberation Sans">K</text>
<path d="M420 384.5 L422 386" stroke="#000" stroke-width="1.2" fill="none" stroke-linecap="square"/>
<path d="M421.5 386 L423.5 386" stroke="#000" stroke-width="2" fill="none" stroke-linecap="square"/>
<circle cx="164" cy="319.2" r="2.2"/>
<circle cx="171.2" cy="359" r="2.2"/>
<circle cx="164" cy="374.5" r="2.2"/>
<circle cx="460.5" cy="334.8" r="2.2"/>
<text x="186" y="317.7" font-size="7" fill="#3a3a3a" font-family="Liberation Sans">2</text>
<text x="186" y="333" font-size="7" fill="#3a3a3a" font-family="Liberation Sans">3</text>
<text x="186" y="358" font-size="7" fill="#3a3a3a" font-family="Liberation Sans">6</text>
<text x="186" y="374" font-size="7" fill="#3a3a3a" font-family="Liberation Sans">5</text>
<text x="232.4" y="325.7" font-size="7" fill="#3a3a3a" font-family="Liberation Sans">1</text>
<text x="232.4" y="366" font-size="7" fill="#3a3a3a" font-family="Liberation Sans">7</text>
<text x="225.8" y="342.3" font-size="7" fill="#3a3a3a" font-family="Liberation Sans">U2A</text>
<text x="211.6" y="350.3" font-size="7" fill="#3a3a3a" font-family="Liberation Sans">1401UD2</text>
<text x="225.8" y="381.2" font-size="7" fill="#3a3a3a" font-family="Liberation Sans">U2B</text>
<text x="211.6" y="389.7" font-size="7" fill="#3a3a3a" font-family="Liberation Sans">1401UD2</text>
<text x="308.8" y="318.9" font-size="7" fill="#3a3a3a" font-family="Liberation Sans">U4B</text>
<text x="307.9" y="382.3" font-size="7" fill="#3a3a3a" font-family="Liberation Sans">561TM2</text>
<text x="295.2" y="325.7" font-size="7" fill="#3a3a3a" font-family="Liberation Sans">8</text>
<text x="295.2" y="341.5" font-size="7" fill="#3a3a3a" font-family="Liberation Sans">9</text>
<text x="292.6" y="349" font-size="7" fill="#3a3a3a" font-family="Liberation Sans">11</text>
<text x="292" y="365" font-size="7" fill="#3a3a3a" font-family="Liberation Sans">10</text>
<text x="308" y="331" font-size="7" fill="#3a3a3a" font-family="Liberation Sans">S</text>
<text x="308" y="346.5" font-size="7" fill="#3a3a3a" font-family="Liberation Sans">D</text>
<text x="308" y="354" font-size="7" fill="#3a3a3a" font-family="Liberation Sans">C</text>
<text x="308" y="370" font-size="7" fill="#3a3a3a" font-family="Liberation Sans">R</text>
<text x="326.6" y="339.3" font-size="7" fill="#3a3a3a" font-family="Liberation Sans">Q</text>
<text x="326.6" y="361" font-size="7" fill="#3a3a3a" font-family="Liberation Sans">Q</text>
<path d="M326 354 L332 354" stroke="#000" stroke-width="2" fill="none" stroke-linecap="square"/>
<text x="259.5" y="346" font-size="7" fill="#3a3a3a" font-family="Liberation Sans">+9V</text>
<text x="341.5" y="333.5" font-size="7" fill="#3a3a3a" font-family="Liberation Sans">13</text>
<text x="341.5" y="356.5" font-size="7" fill="#3a3a3a" font-family="Liberation Sans">12</text>
<text x="418" y="326" font-size="7" fill="#3a3a3a" font-family="Liberation Sans">U6A</text>
<text x="400.6" y="334.5" font-size="7" fill="#3a3a3a" font-family="Liberation Sans">12</text>
<text x="400.6" y="342" font-size="7" fill="#3a3a3a" font-family="Liberation Sans">11</text>
<text x="443.1" y="333.6" font-size="7" fill="#3a3a3a" font-family="Liberation Sans">10</text>
<text x="418" y="358" font-size="7" fill="#3a3a3a" font-family="Liberation Sans">176KT3</text>
<text x="418" y="373.5" font-size="7" fill="#3a3a3a" font-family="Liberation Sans">U6A</text>
<text x="400" y="380" font-size="7" fill="#3a3a3a" font-family="Liberation Sans">13</text>
<text x="405.5" y="388" font-size="7" fill="#3a3a3a" font-family="Liberation Sans">1</text>
<text x="444" y="381.5" font-size="7" fill="#3a3a3a" font-family="Liberation Sans">2</text>
<text x="418" y="405.5" font-size="7" fill="#3a3a3a" font-family="Liberation Sans">176KT3</text>
<text x="468.6" y="349.3" font-size="7" fill="#666" font-family="Liberation Serif" word-spacing="0.8">Выход на УНЧ</text>
<path d="M23 377 L38.8 377" stroke="#000" stroke-width="2" fill="none" stroke-linecap="square"/>
<path d="M23 380 L38.8 380" stroke="#000" stroke-width="2" fill="none" stroke-linecap="square"/>
<path d="M31 380.5 L31 406 L39.5 406" stroke="#000" stroke-width="2" fill="none" stroke-linecap="square"/>
<path d="M60.5 406 L101 406" stroke="#000" stroke-width="2" fill="none" stroke-linecap="square"/>
<path d="M78 405.5 L78 390 L86 390" stroke="#000" stroke-width="2" fill="none" stroke-linecap="square"/>
<path d="M107.5 390 L156 390" stroke="#000" stroke-width="2" fill="none" stroke-linecap="square"/>
<path d="M78 421 L101 421" stroke="#000" stroke-width="2" fill="none" stroke-linecap="square"/>
<path d="M78 421 L78 445 L164 445" stroke="#000" stroke-width="2" fill="none" stroke-linecap="square"/>
<path d="M133 413.5 L202.75 413.5" stroke="#000" stroke-width="1" fill="none" stroke-linecap="square"/>
<path d="M203 413 L203 460 L211.25 460" stroke="#000" stroke-width="2" fill="none" stroke-linecap="square"/>
<path d="M202.75 421 L273.25 421" stroke="#000" stroke-width="2" fill="none" stroke-linecap="square"/>
<path d="M232.5 460 L273.25 460" stroke="#000" stroke-width="2" fill="none" stroke-linecap="square"/>
<path d="M250 460 L250 445 L258.25 445" stroke="#000" stroke-width="2" fill="none" stroke-linecap="square"/>
<path d="M279.5 445 L375.25 445" stroke="#000" stroke-width="2" fill="none" stroke-linecap="square"/>
<path d="M249.5 406 L273.25 406" stroke="#000" stroke-width="2" fill="none" stroke-linecap="square"/>
<path d="M250 405.6 L250 390 L328 390 L328 413.5" stroke="#000" stroke-width="2" fill="none" stroke-linecap="square"/>
<path d="M328 445 L328 468" stroke="#000" stroke-width="2" fill="none" stroke-linecap="square"/>
<path d="M305 413.5 L367 413.5" stroke="#000" stroke-width="1" fill="none" stroke-linecap="square"/>
<path d="M304 468 L327.75 468" stroke="#000" stroke-width="2" fill="none" stroke-linecap="square"/>
<rect x="39.5" y="401.75" width="21" height="8" fill="#fff" stroke="#000" stroke-width="1.7"/>
<path d="M45.8 402.75 L50 402.75 L55.2 408.75 L50.4 408.75 Z" fill="#000"/>
<circle cx="48" cy="403.95" r="0.6" fill="#fff"/>
<circle cx="52.2" cy="407.55" r="0.6" fill="#fff"/>
<rect x="86" y="385.75" width="21.5" height="8" fill="#fff" stroke="#000" stroke-width="1.7"/>
<path d="M92.45 386.75 L96.65 386.75 L101.85 392.75 L97.05 392.75 Z" fill="#000"/>
<circle cx="94.65" cy="387.95" r="0.6" fill="#fff"/>
<circle cx="98.85" cy="391.55" r="0.6" fill="#fff"/>
<rect x="211.25" y="456.25" width="21.25" height="8" fill="#fff" stroke="#000" stroke-width="1.7"/>
<path d="M217.62 457.25 L221.82 457.25 L227.03 463.25 L222.22 463.25 Z" fill="#000"/>
<circle cx="219.82" cy="458.45" r="0.6" fill="#fff"/>
<circle cx="224.03" cy="462.05" r="0.6" fill="#fff"/>
<rect x="258.25" y="440.5" width="21.25" height="8" fill="#fff" stroke="#000" stroke-width="1.7"/>
<path d="M264.62 441.5 L268.82 441.5 L274.02 447.5 L269.23 447.5 Z" fill="#000"/>
<circle cx="266.82" cy="442.7" r="0.6" fill="#fff"/>
<circle cx="271.02" cy="446.3" r="0.6" fill="#fff"/>
<path d="M101 397.5 L133 413.38 L101 429.25 Z" fill="#fff" stroke="#000" stroke-width="2.1" stroke-linejoin="miter"/>
<text x="104" y="407.98" font-size="6" fill="#777" font-family="Liberation Sans">~</text>
<text x="104" y="424.49" font-size="6" fill="#777" font-family="Liberation Sans">+</text>
<path d="M109 401.3 L109 397.2" stroke="#000" stroke-width="2" fill="none" stroke-linecap="square"/>
<path d="M109 425.45 L109 429.55" stroke="#000" stroke-width="2" fill="none" stroke-linecap="square"/>
<path d="M273.25 398 L305 413.62 L273.25 429.25 Z" fill="#fff" stroke="#000" stroke-width="2.1" stroke-linejoin="miter"/>
<text x="276.25" y="408.31" font-size="6" fill="#777" font-family="Liberation Sans">~</text>
<text x="276.25" y="424.56" font-size="6" fill="#777" font-family="Liberation Sans">+</text>
<path d="M281 401.8 L281 397.7" stroke="#000" stroke-width="2" fill="none" stroke-linecap="square"/>
<path d="M281 425.45 L281 429.55" stroke="#000" stroke-width="2" fill="none" stroke-linecap="square"/>
<path d="M273.25 452.5 L304 468.38 L273.25 484.25 Z" fill="#fff" stroke="#000" stroke-width="2.1" stroke-linejoin="miter"/>
<text x="276.25" y="462.98" font-size="6" fill="#777" font-family="Liberation Sans">~</text>
<text x="276.25" y="479.49" font-size="6" fill="#777" font-family="Liberation Sans">+</text>
<path d="M281 456.3 L281 452.2" stroke="#000" stroke-width="2" fill="none" stroke-linecap="square"/>
<path d="M281 480.45 L281 484.55" stroke="#000" stroke-width="2" fill="none" stroke-linecap="square"/>
<circle cx="78" cy="405.5" r="2.2"/>
<circle cx="156" cy="389.75" r="2.2"/>
<circle cx="156" cy="413.5" r="2.2"/>
<circle cx="164" cy="445" r="2.2"/>
<circle cx="202.75" cy="421" r="2.2"/>
<circle cx="249.5" cy="460" r="2.2"/>
<circle cx="327.75" cy="444.5" r="2.2"/>
<circle cx="327.75" cy="413.5" r="2.2"/>
<text x="35.5" y="371" font-size="5" fill="#999" font-family="Liberation Sans">+</text>
<text x="7.5" y="381.3" font-size="7" fill="#3a3a3a" font-family="Liberation Sans">C12</text>
<text x="7.8" y="389.2" font-size="7" fill="#3a3a3a" font-family="Liberation Sans">100.0</text>
<text x="38.8" y="394" font-size="7" fill="#3a3a3a" font-family="Liberation Sans">R16</text>
<text x="38.8" y="420" font-size="7" fill="#3a3a3a" font-family="Liberation Sans">2.4K</text>
<text x="78" y="381" font-size="7" fill="#3a3a3a" font-family="Liberation Sans">R17</text>
<text x="101.6" y="381" font-size="7" fill="#3a3a3a" font-family="Liberation Sans">3,6K</text>
<text x="92.3" y="403.5" font-size="7" fill="#3a3a3a" font-family="Liberation Sans">6</text>
<text x="92.3" y="419" font-size="7" fill="#3a3a3a" font-family="Liberation Sans">5</text>
<text x="138" y="411.5" font-size="7" fill="#3a3a3a" font-family="Liberation Sans">7</text>
<text x="132.5" y="427.5" font-size="7" fill="#3a3a3a" font-family="Liberation Sans">U3B</text>
<text x="117.5" y="434.5" font-size="7" fill="#3a3a3a" font-family="Liberation Sans">1401UD2</text>
<text x="264.4" y="404" font-size="7" fill="#3a3a3a" font-family="Liberation Sans">9</text>
<text x="259.5" y="419.5" font-size="7" fill="#3a3a3a" font-family="Liberation Sans">10</text>
<text x="310.2" y="411.5" font-size="7" fill="#3a3a3a" font-family="Liberation Sans">8</text>
<text x="304.5" y="427.5" font-size="7" fill="#3a3a3a" font-family="Liberation Sans">U2C</text>
<text x="289.5" y="434.5" font-size="7" fill="#3a3a3a" font-family="Liberation Sans">1401UD2</text>
<text x="249.5" y="435" font-size="7" fill="#3a3a3a" font-family="Liberation Sans">R18</text>
<text x="273" y="435" font-size="7" fill="#3a3a3a" font-family="Liberation Sans">24K</text>
<text x="210.75" y="443" font-size="7" fill="#3a3a3a" font-family="Liberation Sans">R19</text>
<text x="210.75" y="451" font-size="7" fill="#3a3a3a" font-family="Liberation Sans">24K</text>
<text x="259.5" y="458.5" font-size="7" fill="#3a3a3a" font-family="Liberation Sans">13</text>
<text x="259.5" y="475" font-size="7" fill="#3a3a3a" font-family="Liberation Sans">12</text>
<text x="311" y="466.5" font-size="7" fill="#3a3a3a" font-family="Liberation Sans">14</text>
<text x="304.5" y="482" font-size="7" fill="#3a3a3a" font-family="Liberation Sans">U2D</text>
<text x="289.5" y="489.5" font-size="7" fill="#3a3a3a" font-family="Liberation Sans">1401UD2</text>
<path d="M236.8 34 L238.4 38.5" stroke="#000" stroke-width="1.3" fill="none" stroke-linecap="square"/>
<path d="M236.8 37.5 L239 37.5" stroke="#000" stroke-width="1" fill="none" stroke-linecap="square"/>
<path d="M237 87.2 L239.2 91" stroke="#000" stroke-width="1.3" fill="none" stroke-linecap="square"/>
<path d="M236.8 89.5 L239 89.5" stroke="#000" stroke-width="1" fill="none" stroke-linecap="square"/>
<circle cx="420" cy="192.3" r="0.5"/>
<circle cx="420" cy="231.3" r="0.5"/>
<circle cx="277.5" cy="325" r="0.5"/>
</svg></body></html>
